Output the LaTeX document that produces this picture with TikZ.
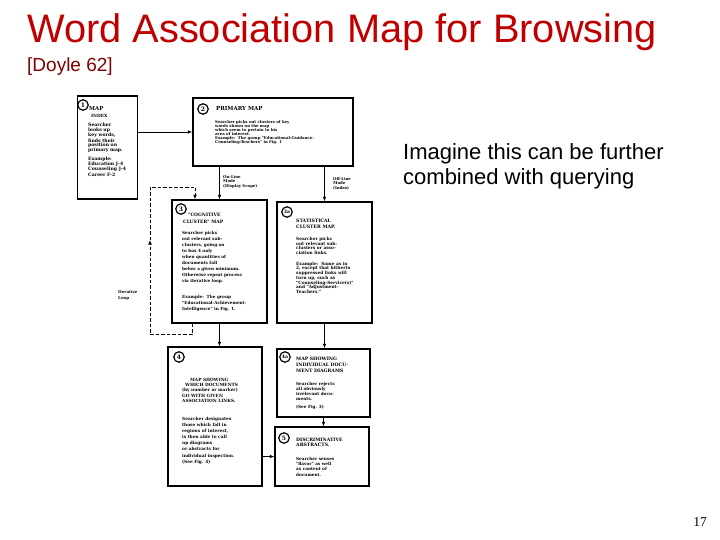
\documentclass[tikz,border=0pt]{standalone}
\usepackage{fontspec}
\setmainfont{Liberation Sans}
\newfontfamily\scanfont{DejaVu Serif}
\newfontfamily\pagefont{Liberation Serif}
\usetikzlibrary{arrows.meta}
\definecolor{titlered}{RGB}{192,0,0}
\definecolor{citered}{RGB}{128,0,0}
\newcommand{\scanset}[2]{\scanfont\bfseries\fontsize{#1}{#2}\selectfont}

\begin{document}
\begin{tikzpicture}[x=1pt,y=-1pt,
  mapbox/.style={draw, rectangle, line width=1.3pt, inner sep=0pt},
  numc/.style={draw, circle, line width=1.2pt, inner sep=0pt, minimum size=10.5pt, font=\scanset{6}{6}},
  boxtext/.style={anchor=north west, align=left, inner sep=0pt},
  flow/.style={-{Latex[length=4.5pt,width=3.8pt]}, line width=0.9pt},
  loopline/.style={flow, dashed, dash pattern=on 3.5pt off 2pt}]
\fill[white] (0,0) rectangle (720,540);
\useasboundingbox (0,0) rectangle (720,540);

\node[anchor=base west, inner sep=0pt, text=titlered, font=\fontsize{39.8}{40}\selectfont] (title) at (27,43) {Word Association Map for Browsing};
\node[anchor=base west, inner sep=0pt, text=citered, font=\fontsize{19}{20}\selectfont] (cite) at (27,72) {[Doyle 62]};
\node[anchor=north west, inner sep=0pt, align=left, font=\fontsize{22}{25}\selectfont] (note) at (403,143) {Imagine this can be further\\combined with querying};
\node[anchor=base east, inner sep=0pt, font=\pagefont\fontsize{13.5}{14}\selectfont] (page) at (707,526) {17};

\node[mapbox, minimum width=60pt, minimum height=103pt] (b1) at (107.5,147.5) {};
\node[mapbox, minimum width=160pt, minimum height=68pt] (b2) at (273,132) {};
\node[mapbox, minimum width=95pt, minimum height=123pt] (b3) at (219.5,261.5) {};
\node[mapbox, minimum width=95pt, minimum height=121pt] (b3a) at (324.5,262.5) {};
\node[mapbox, minimum width=94pt, minimum height=139pt] (b4) at (215,416.5) {};
\node[mapbox, minimum width=93pt, minimum height=68pt] (b4a) at (323.5,383) {};
\node[mapbox, minimum width=94pt, minimum height=59pt] (b5) at (322,456.5) {};

\node[numc] (n1) at (83,105) {1};
\node[numc] (n2) at (203,109) {2};
\node[numc] (n3) at (181,209) {3};
\node[numc, font=\scanset{4.6}{4.6}] (n3a) at (287,212) {3a};
\node[numc] (n4) at (179,357) {4};
\node[numc, font=\scanset{4.6}{4.6}] (n4a) at (285,357) {4a};
\node[numc] (n5) at (284,438) {5};

\node[boxtext, font=\scanset{5.4}{7}] (h1) at (89,106) {MAP\\\hspace{2pt}{\fontsize{4.3}{4.3}\selectfont INDEX}};
\node[boxtext, font=\scanset{4.6}{4.4}] (t1) at (88,123) {Searcher\\looks up\\key words,\\finds their\\position on\\primary map.\\[2.6pt]Example:\\Education J-4\\Counseling J-4\\Career F-2};

\node[boxtext, font=\scanset{5.5}{6}] (h2) at (216,106) {PRIMARY MAP};
\node[boxtext, font=\scanset{3.9}{4.1}] (t2) at (215,120) {Searcher picks out clusters of key\\words shown on the map\\which seem to pertain to his\\area of interest.\\Example:\ \ The group "Educational-Guidance-\\Counseling-Teachers" in Fig. 1};

\node[boxtext, font=\scanset{4.5}{6.5}] (h3) at (183,213) {\hspace{5pt}"COGNITIVE\\CLUSTER" MAP};
\node[boxtext, font=\scanset{4.2}{6}] (t3) at (182,231) {Searcher picks\\out relevant sub-\\clusters, going on\\to box 4 only\\when quantities of\\documents fall\\below a given minimum.\\Otherwise repeat process\\via iterative loop.\\[10pt]Example:\ \ The group\\"Educational-Achievement-\\Intelligence" in Fig. 1.};

\node[boxtext, font=\scanset{4.6}{5.6}] (h3a) at (296,219) {STATISTICAL\\CLUSTER MAP.};
\node[boxtext, font=\scanset{4.3}{4.7}] (t3a) at (296,237) {Searcher picks\\out relevant sub-\\clusters or asso-\\ciation links.\\[6pt]Example:\ \ Same as in\\2, except that hitherto\\suppressed links will\\turn up, such as\\"Counseling-Service(s)"\\and "Adjustment-\\Teachers."};

\node[boxtext, font=\scanset{4.3}{5.3}] (h4) at (182,378) {\hspace{8pt}MAP SHOWING\\\hspace{3pt}WHICH DOCUMENTS\\(by number or marker)\\GO WITH GIVEN\\ASSOCIATION LINKS.};
\node[boxtext, font=\scanset{4.3}{6.1}] (t4) at (182,417) {Searcher designates\\those which fall in\\regions of interest,\\is then able to call\\up diagrams\\or abstracts for\\individual inspection.\\(See Fig. 4)};

\node[boxtext, font=\scanset{4.6}{5.8}] (h4a) at (296,357) {MAP SHOWING\\INDIVIDUAL DOCU-\\MENT DIAGRAMS};
\node[boxtext, font=\scanset{4.2}{5.2}] (t4a) at (296,382) {Searcher rejects\\all obviously\\irrelevant docu-\\ments.\\[2pt](See Fig. 3)};

\node[boxtext, font=\scanset{4.6}{5.3}] (h5) at (296,438) {DISCRIMINATIVE\\ABSTRACTS.};
\node[boxtext, font=\scanset{4.2}{5.3}] (t5) at (296,457) {Searcher senses\\"flavor" as well\\as content of\\document.};

\node[boxtext, font=\scanset{3.9}{4.6}] (online) at (223,175) {On-Line\\Mode\\(Display Scope)};
\node[boxtext, font=\scanset{3.9}{4.6}] (offline) at (333,177) {Off-Line\\Mode\\(Index)};
\node[boxtext, font=\scanset{4}{6}] (iter) at (118,290) {Iterative\\Loop};

\coordinate (loopmid) at (150,240);
\draw[flow] (b1.east |- b2.west) -- (b2.west);
\draw[flow] (b3.north |- b2.south) -- (b3.north);
\draw[flow] (b3a.north |- b2.south) -- (b3a.north);
\draw[flow] (b3.south) -- (b3.south |- b4.north);
\draw[flow] (b3a.south) -- (b3a.south |- b4a.north);
\draw[flow] (b4a.south) -- (b4a.south |- b5.north);
\draw[flow] (b4.east |- b5.west) -- (b5.west);
\draw[loopline] ([xshift=-27.5pt]b3.south) -- ++(0,11) -| (loopmid);
\draw[loopline] (loopmid) |- ([xshift=-24.5pt]b3.north |- 0,187) -- ([xshift=-24.5pt]b3.north);
\end{tikzpicture}
\end{document}
